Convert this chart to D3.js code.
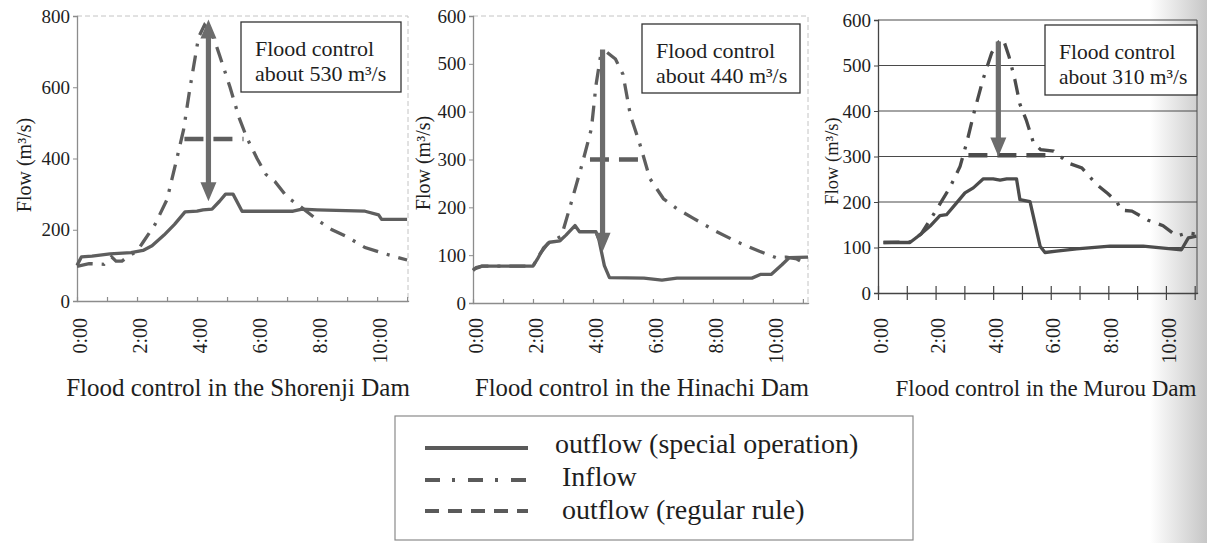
<!DOCTYPE html>
<html>
<head>
<meta charset="utf-8">
<script src="https://cdn.jsdelivr.net/npm/d3@7"></script>
<style>
  body { margin: 0; background: #fff; }
  svg { display: block; }
</style>
</head>
<body>
<div id="chart"></div>
<script>
// x axis labels (hours)
const labelHours = [0, 2, 4, 6, 8, 10];
const timeLabels = ["0:00", "2:00", "4:00", "6:00", "8:00", "10:00"];

// Shorenji Dam  [hour, m3/s]
const shorenjiTicks = [0, 200, 400, 600, 800];
const shorenjiOutflow = [[0,100],[0.15,124],[0.5,126],[1.1,132],[1.8,136],[2.2,142],[2.5,155],[2.9,185],[3.25,215],[3.6,250],[4.0,252],[4.2,256],[4.5,258],[4.75,280],[4.95,300],[5.2,300],[5.5,252],[5.9,252],[7.2,252],[7.5,258],[8.0,256],[9.6,252],[10.05,242],[10.15,229],[11.0,229]];
const shorenjiInflow = [[0,97],[0.4,105],[0.9,103],[1.15,124],[1.3,112],[1.5,112],[1.7,125],[2.0,140],[2.2,165],[2.6,215],[3.0,285],[3.3,390],[3.55,480],[3.75,590],[3.9,665],[4.05,740],[4.25,775],[4.5,752],[4.75,690],[5.1,600],[5.4,515],[5.65,460],[6.0,400],[6.3,355],[6.6,335],[7.0,292],[7.4,268],[7.75,245],[8.0,228],[8.5,200],[9.0,180],[9.6,150],[10.2,134],[11.0,115]];
const shorenjiRegular = [[3.58,455],[5.55,455]];
const shorenjiArrow = [4.38, 790, 280];
const shorenjiNote = ["Flood control", "about 530 m³/s"];

// Hinachi Dam
const hinachiTicks = [0, 100, 200, 300, 400, 500, 600];
const hinachiOutflow = [[0,68],[0.1,74],[0.3,77],[2.0,77],[2.15,92],[2.35,115],[2.55,127],[2.9,130],[3.1,142],[3.4,162],[3.55,149],[4.1,149],[4.2,132],[4.38,78],[4.55,53],[5.7,52],[6.3,48],[6.8,52],[9.3,52],[9.6,60],[9.95,60],[10.3,80],[10.55,95],[11.17,96]];
const hinachiInflow = [[0,70],[0.3,77],[2.0,77],[2.2,100],[2.5,125],[2.95,140],[3.3,215],[3.65,293],[3.95,365],[4.1,455],[4.25,515],[4.45,525],[4.75,510],[5.0,478],[5.25,392],[5.55,335],[5.9,260],[6.35,218],[6.8,197],[7.35,177],[8.1,150],[8.8,128],[9.55,108],[10.1,95],[10.45,96],[10.8,92],[11.17,78]];
const hinachiRegular = [[3.9,300],[5.68,300]];
const hinachiArrow = [4.32, 530, 107];
const hinachiNote = ["Flood control", "about 440 m³/s"];

// Murou Dam
const murouTicks = [0, 100, 200, 300, 400, 500, 600];
const murouOutflow = [[0.19,111],[1.11,111],[1.46,128],[1.81,147],[2.15,170],[2.38,172],[2.73,198],[3.02,220],[3.31,231],[3.66,251],[4.0,251],[4.24,248],[4.47,251],[4.81,251],[4.93,205],[5.28,201],[5.63,103],[5.8,89],[6.2,92],[6.9,97],[8.06,103],[9.21,103],[10.54,95],[10.78,121],[11.06,125]];
const murouInflow = [[0.19,111],[1.1,112],[1.5,130],[2.0,180],[2.5,232],[2.85,278],[3.1,335],[3.35,400],[3.65,470],[3.95,528],[4.2,552],[4.35,558],[4.55,520],[4.75,470],[4.93,415],[5.15,380],[5.4,330],[5.65,315],[6.1,312],[6.63,285],[7.08,275],[7.57,240],[7.99,218],[8.3,200],[8.45,182],[8.82,180],[9.38,160],[9.9,148],[10.38,125],[10.73,132],[11.0,130]];
const murouRegular = [[3.14,303],[5.91,303]];
const murouArrow = [4.18, 553, 300];
const murouNote = ["Flood control", "about 310 m³/s"];

const legendLabels = ["outflow (special operation)", "Inflow", "outflow (regular rule)"];

const panels = [
  { title: "Flood control in the Shorenji Dam", yTicks: shorenjiTicks, outflow: shorenjiOutflow,
    inflow: shorenjiInflow, regular: shorenjiRegular, arrow: shorenjiArrow, note: shorenjiNote,
    left: 77, right: 408, top: 16, bottom: 301, xMax: 11.03, grid: false, doubleArrow: true,
    box: [241, 22, 160, 70], titleX: 238, titleSize: 25, yLabelX: 24, yLabelY: 165, yLabelSize: 20,
    axisColor: "#8c8c8c", lineColor: "#5e5e5e", tickUp: 4, tickDown: 1, noteSize: 22 },
  { title: "Flood control in the Hinachi Dam", yTicks: hinachiTicks, outflow: hinachiOutflow,
    inflow: hinachiInflow, regular: hinachiRegular, arrow: hinachiArrow, note: hinachiNote,
    left: 473, right: 808, top: 16, bottom: 303, xMax: 11.17, grid: false, doubleArrow: false,
    box: [642, 24, 158, 69], titleX: 642, titleSize: 24.7, yLabelX: 423, yLabelY: 163, yLabelSize: 20,
    axisColor: "#8c8c8c", lineColor: "#5e5e5e", tickUp: 4, tickDown: 1, noteSize: 22 },
  { title: "Flood control in the Murou Dam", yTicks: murouTicks, outflow: murouOutflow,
    inflow: murouInflow, regular: murouRegular, arrow: murouArrow, note: murouNote,
    left: 878, right: 1197, top: 20, bottom: 293, xMax: 11.08, grid: true, doubleArrow: false,
    box: [1045, 25, 152, 70], titleX: 1046, titleSize: 23, yLabelX: 832, yLabelY: 161, yLabelSize: 18.5,
    axisColor: "#444", lineColor: "#4c4c4c", tickUp: 7, tickDown: 7, noteSize: 21.5 }
];

const serif = "'Liberation Serif', 'Times New Roman', serif";
const textColor = "#1e1e1e";
const arrowColor = "#6c6c6c";
const inflowDash = "16,9,3,9";
const regularDash = "19,10";

const svg = d3.select("#chart").append("svg")
  .attr("width", 1207)
  .attr("height", 543)
  .attr("font-family", serif);

// grey shading of the scanned page near the right edge
const grad = svg.append("defs").append("linearGradient").attr("id", "shade");
grad.append("stop").attr("offset", "0").attr("stop-color", "#ffffff");
grad.append("stop").attr("offset", "1").attr("stop-color", "#c6c6c6");
svg.append("rect")
  .attr("x", 1150).attr("y", 0).attr("width", 57).attr("height", 543)
  .attr("fill", "url(#shade)");

function arrowPath(cx, yTop, yBot, double) {
  const hw = 8, hl = 19, sw = 2.6;
  const p = [];
  if (double) {
    p.push([cx, yTop], [cx + hw, yTop + hl], [cx + sw, yTop + hl]);
  } else {
    p.push([cx - sw, yTop], [cx + sw, yTop]);
  }
  p.push([cx + sw, yBot - hl], [cx + hw, yBot - hl], [cx, yBot], [cx - hw, yBot - hl], [cx - sw, yBot - hl]);
  if (double) p.push([cx - sw, yTop + hl], [cx - hw, yTop + hl]);
  return "M" + p.map(d => d.join(",")).join("L") + "Z";
}

function drawPanel(p) {
  const x = d3.scaleLinear().domain([0, p.xMax]).range([p.left, p.right]);
  const y = d3.scaleLinear().domain([0, d3.max(p.yTicks)]).range([p.bottom, p.top]);
  const g = svg.append("g").attr("font-family", serif);

  if (p.grid) {
    g.selectAll(".grid")
      .data(p.yTicks.slice(1))
      .enter()
      .append("line")
      .attr("x1", p.left).attr("x2", p.right)
      .attr("y1", d => y(d)).attr("y2", d => y(d))
      .attr("stroke", "#4a4a4a")
      .attr("stroke-width", 1.2);
    g.append("line")
      .attr("x1", p.right).attr("x2", p.right)
      .attr("y1", p.top).attr("y2", p.bottom)
      .attr("stroke", "#4a4a4a");
  } else {
    // faint plot-area frame
    g.append("path")
      .attr("d", `M${p.left},${p.top}H${p.right}V${p.bottom}`)
      .attr("fill", "none")
      .attr("stroke", "#c4c4c4")
      .attr("stroke-dasharray", "5,3");
  }

  // y axis
  const ya = g.append("g")
    .attr("transform", `translate(${p.left},0)`)
    .call(d3.axisLeft(y).tickValues(p.yTicks).tickSize(4).tickPadding(3));
  ya.attr("font-family", serif).attr("font-size", 19);
  ya.select(".domain").attr("stroke", p.axisColor).attr("stroke-width", 1.3);
  ya.selectAll(".tick line").attr("stroke", p.axisColor);
  ya.selectAll(".tick text").attr("fill", textColor);

  // x axis, one tick per hour
  const xa = g.append("g")
    .attr("transform", `translate(0,${p.bottom})`)
    .call(d3.axisBottom(x).tickValues(d3.range(0, Math.floor(p.xMax) + 1)).tickSize(1).tickFormat(""));
  xa.attr("font-family", serif);
  xa.select(".domain").attr("stroke", p.axisColor).attr("stroke-width", 1.3);
  xa.selectAll(".tick line")
    .attr("y1", -p.tickUp).attr("y2", p.tickDown)
    .attr("stroke", p.axisColor).attr("stroke-width", 1.2);

  g.selectAll(".xlabel")
    .data(labelHours)
    .enter()
    .append("text")
    .attr("transform", d => `translate(${x(d) + 3},318) rotate(-90)`)
    .attr("text-anchor", "end")
    .attr("dy", "0.33em")
    .attr("font-size", 20)
    .attr("fill", textColor)
    .text((d, i) => timeLabels[i]);

  g.append("text")
    .attr("transform", `translate(${p.yLabelX},${p.yLabelY}) rotate(-90)`)
    .attr("text-anchor", "middle")
    .attr("dy", "0.35em")
    .attr("font-size", p.yLabelSize)
    .attr("fill", textColor)
    .text("Flow (m³/s)");

  const line = d3.line().x(d => x(d[0])).y(d => y(d[1]));

  g.append("path")
    .datum(p.inflow)
    .attr("d", line)
    .attr("fill", "none")
    .attr("stroke", p.lineColor)
    .attr("stroke-width", 3.3)
    .attr("stroke-dasharray", inflowDash);

  g.append("path")
    .datum(p.regular)
    .attr("d", line)
    .attr("fill", "none")
    .attr("stroke", p.lineColor)
    .attr("stroke-width", 4.5)
    .attr("stroke-dasharray", regularDash);

  g.append("path")
    .datum(p.outflow)
    .attr("d", line)
    .attr("fill", "none")
    .attr("stroke", p.lineColor)
    .attr("stroke-width", 3.3)
    .attr("stroke-linejoin", "round");

  g.append("path")
    .attr("d", arrowPath(x(p.arrow[0]), y(p.arrow[1]), y(p.arrow[2]), p.doubleArrow))
    .attr("fill", arrowColor);

  // note box
  g.append("rect")
    .attr("x", p.box[0]).attr("y", p.box[1])
    .attr("width", p.box[2]).attr("height", p.box[3])
    .attr("fill", "#fff")
    .attr("stroke", "#333")
    .attr("stroke-width", 1.3);
  g.selectAll(".note")
    .data(p.note)
    .enter()
    .append("text")
    .attr("x", p.box[0] + 14)
    .attr("y", (d, i) => p.box[1] + 34 + i * 25)
    .attr("font-size", p.noteSize)
    .attr("fill", textColor)
    .text(d => d);

  g.append("text")
    .attr("x", p.titleX)
    .attr("y", 396)
    .attr("text-anchor", "middle")
    .attr("font-size", p.titleSize)
    .attr("fill", textColor)
    .text(p.title);
}

panels.forEach(drawPanel);

// legend
const legend = svg.append("g");
legend.append("rect")
  .attr("x", 395).attr("y", 416).attr("width", 518).attr("height", 124)
  .attr("fill", "#fff")
  .attr("stroke", "#8a8a8a")
  .attr("stroke-width", 1.2);

const legendDash = [null, "15,12,3,13", "14,9"];
const legendRowY = [448, 480, 511];
const legendTextX = [555, 562, 562];
const legendTextY = [453, 486, 519];

legend.selectAll(".sample")
  .data(legendLabels)
  .enter()
  .append("line")
  .attr("x1", 425).attr("x2", 528)
  .attr("y1", (d, i) => legendRowY[i]).attr("y2", (d, i) => legendRowY[i])
  .attr("stroke", "#5a5a5a")
  .attr("stroke-width", 4)
  .attr("stroke-dasharray", (d, i) => legendDash[i]);

legend.selectAll(".ltext")
  .data(legendLabels)
  .enter()
  .append("text")
  .attr("x", (d, i) => legendTextX[i])
  .attr("y", (d, i) => legendTextY[i])
  .attr("font-size", 28)
  .attr("fill", textColor)
  .text(d => d);
</script>
</body>
</html>
